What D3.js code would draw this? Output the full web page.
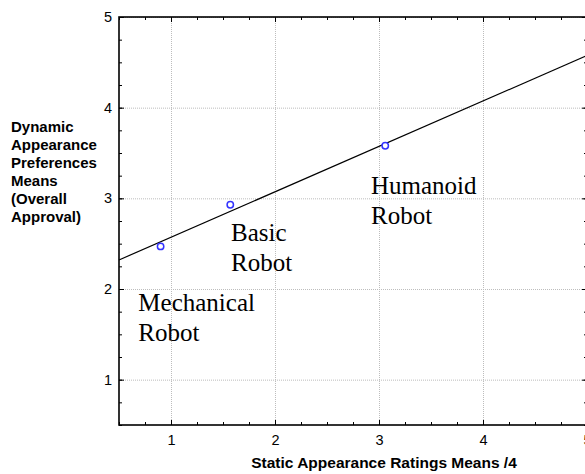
<!DOCTYPE html>
<html>
<head>
<meta charset="utf-8">
<script src="https://cdn.jsdelivr.net/npm/d3@7"></script>
<style>
  body { margin: 0; background: #fff; }
  svg { display: block; }
</style>
</head>
<body>
<div id="chart"></div>
<script>
// data
const robotNames = ['Mechanical Robot', 'Basic Robot', 'Humanoid Robot'];
const staticMeans = [0.90, 1.57, 3.06];
const dynamicMeans = [2.47, 2.93, 3.58];
const xTickValues = [1, 2, 3, 4, 5];
const yTickValues = [1, 2, 3, 4, 5];
const xTitle = 'Static Appearance Ratings Means /4';
const yTitleLines = ['Dynamic', 'Appearance', 'Preferences', 'Means', '(Overall', 'Approval)'];

const width = 585, height = 474;
const plot = { left: 119, top: 17, right: 587, bottom: 425 };
const sansFont = 'Arial, "Liberation Sans", sans-serif';

const svg = d3.select('#chart').append('svg')
  .attr('width', width)
  .attr('height', height);

const x = d3.scaleLinear().domain([0.5, 5]).range([plot.left, plot.right]);
const y = d3.scaleLinear().domain([0.5, 5]).range([plot.bottom, plot.top]);

// minor ticks every 0.25
const xMinor = d3.range(0.5, 5.001, 0.25);
const yMinor = d3.range(0.5, 5.001, 0.25);

// grid lines (dotted grey)
const grid = svg.append('g')
  .attr('stroke', '#bdbdbd')
  .attr('stroke-width', 1)
  .attr('stroke-dasharray', '1,1');
grid.selectAll('line.vx')
  .data(xTickValues)
  .enter()
  .append('line')
  .attr('x1', d => x(d) + 0.5).attr('x2', d => x(d) + 0.5)
  .attr('y1', plot.top).attr('y2', plot.bottom);
grid.selectAll('line.hy')
  .data(yTickValues)
  .enter()
  .append('line')
  .attr('x1', plot.left).attr('x2', plot.right)
  .attr('y1', d => y(d) + 0.5).attr('y2', d => y(d) + 0.5);

// axes: ticks point inward
const bottomMinor = d3.axisBottom(x).tickValues(xMinor).tickSize(-3).tickFormat('');
const bottomMajor = d3.axisBottom(x).tickValues(xTickValues).tickSize(-5).tickPadding(10).tickFormat(d3.format('d'));
const topMinor = d3.axisTop(x).tickValues(xMinor).tickSize(-3).tickFormat('');
const topMajor = d3.axisTop(x).tickValues(xTickValues).tickSize(-5).tickFormat('');
const leftMinor = d3.axisLeft(y).tickValues(yMinor).tickSize(-3).tickFormat('');
const leftMajor = d3.axisLeft(y).tickValues(yTickValues).tickSize(-5).tickPadding(7).tickFormat(d3.format('d'));
const rightMinor = d3.axisRight(y).tickValues(yMinor).tickSize(-3).tickFormat('');
const rightMajor = d3.axisRight(y).tickValues(yTickValues).tickSize(-5).tickFormat('');

const styleAxis = g => {
  g.attr('font-family', sansFont).attr('font-size', 14.5);
  g.select('.domain').remove();
  g.selectAll('.tick line').attr('stroke', '#000').attr('stroke-width', 1);
  g.selectAll('.tick text').attr('fill', '#000');
};

svg.append('g').attr('transform', `translate(0,${plot.bottom})`).call(bottomMinor).call(styleAxis);
svg.append('g').attr('transform', `translate(0,${plot.bottom})`).call(bottomMajor).call(styleAxis);
svg.append('g').attr('transform', `translate(0,${plot.top})`).call(topMinor).call(styleAxis);
svg.append('g').attr('transform', `translate(0,${plot.top})`).call(topMajor).call(styleAxis);
svg.append('g').attr('transform', `translate(${plot.left},0)`).call(leftMinor).call(styleAxis);
svg.append('g').attr('transform', `translate(${plot.left},0)`).call(leftMajor).call(styleAxis);
svg.append('g').attr('transform', `translate(${plot.right},0)`).call(rightMinor).call(styleAxis);
svg.append('g').attr('transform', `translate(${plot.right},0)`).call(rightMajor).call(styleAxis);

// frame
svg.append('rect')
  .attr('x', plot.left).attr('y', plot.top)
  .attr('width', plot.right - plot.left)
  .attr('height', plot.bottom - plot.top)
  .attr('fill', 'none')
  .attr('stroke', '#000')
  .attr('stroke-width', 1.6);

// least squares fit through the three means
const pts = staticMeans.map((v, i) => [v, dynamicMeans[i]]);
const mx = d3.mean(pts, p => p[0]);
const my = d3.mean(pts, p => p[1]);
const slope = d3.sum(pts, p => (p[0] - mx) * (p[1] - my)) / d3.sum(pts, p => (p[0] - mx) ** 2);
const intercept = my - slope * mx;

const fitLine = d3.line()
  .x(d => x(d))
  .y(d => y(intercept + slope * d));
svg.append('path')
  .attr('d', fitLine(x.domain()))
  .attr('fill', 'none')
  .attr('stroke', '#000')
  .attr('stroke-width', 1.2);

// points
svg.append('g')
  .selectAll('circle')
  .data(pts)
  .enter()
  .append('circle')
  .attr('cx', d => x(d[0]))
  .attr('cy', d => y(d[1]))
  .attr('r', 3.2)
  .attr('fill', '#fff')
  .attr('stroke', '#3333ff')
  .attr('stroke-width', 1.5);

// robot labels (two lines each), placed in data units
const labelSpots = [[0.686, 1.76], [1.577, 2.53], [2.923, 3.048]];
const labels = svg.append('g')
  .attr('font-family', '"Times New Roman", "Liberation Serif", serif')
  .attr('font-size', 25)
  .attr('fill', '#000');
robotNames.forEach((name, i) => {
  const t = labels.append('text')
    .attr('x', x(labelSpots[i][0]))
    .attr('y', y(labelSpots[i][1]));
  name.split(' ').forEach((word, j) => {
    t.append('tspan')
      .attr('x', x(labelSpots[i][0]))
      .attr('dy', j === 0 ? 0 : 30)
      .text(word);
  });
});

// axis titles
svg.append('text')
  .attr('x', 384)
  .attr('y', 468)
  .attr('text-anchor', 'middle')
  .attr('font-family', sansFont)
  .attr('font-weight', 'bold')
  .attr('font-size', 15.5)
  .text(xTitle);

const yt = svg.append('text')
  .attr('font-family', sansFont)
  .attr('font-weight', 'bold')
  .attr('font-size', 15);
yTitleLines.forEach((line, i) => {
  yt.append('tspan')
    .attr('x', 11)
    .attr('y', 132 + i * 18)
    .text(line);
});
</script>
</body>
</html>
